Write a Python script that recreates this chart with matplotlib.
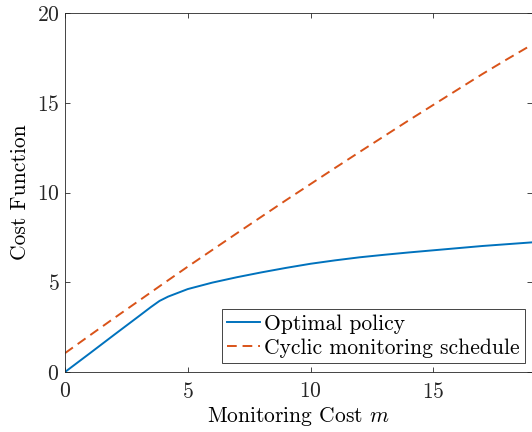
import numpy as np
import matplotlib
matplotlib.use("Agg")
import matplotlib.pyplot as plt

# monitoring cost m
m_opt = [0, 1, 2, 3, 3.5, 3.85, 4.2, 5, 6, 7, 8, 9, 10, 11, 12, 13, 14, 15, 16, 17, 18, 19]
cost_opt = [0, 1.03, 2.07, 3.1, 3.62, 3.96, 4.2, 4.62, 4.98, 5.28, 5.55, 5.8, 6.03, 6.22,
            6.39, 6.53, 6.66, 6.78, 6.9, 7.02, 7.12, 7.22]

m_cyc = [0, 1, 2, 3, 4, 5, 6, 7, 8, 9, 10, 11, 12, 13, 14, 15, 16, 17, 18, 19]
cost_cyc = [1.05, 2.03, 3.0, 3.96, 4.92, 5.87, 6.8, 7.73, 8.65, 9.57, 10.47, 11.37,
            12.26, 13.14, 14.02, 14.88, 15.74, 16.6, 17.42, 18.22]

plt.rcParams['font.family'] = 'serif'
plt.rcParams['font.serif'] = ['cmr10']
plt.rcParams['mathtext.fontset'] = 'cm'
plt.rcParams['axes.formatter.use_mathtext'] = True
fs = 15.5

fig = plt.figure(figsize=(5.32, 4.32), dpi=100)
ax = fig.add_axes([65 / 532, 60 / 432, 466.5 / 532, 359 / 432])

ax.plot(m_opt, cost_opt, color='#0072BD', lw=1.4, label='Optimal policy')
ax.plot(m_cyc, cost_cyc, color='#D95319', lw=1.4, ls=(0, (5, 3)),
        label='Cyclic monitoring schedule')

ax.set_xlim(0, 19)
ax.set_ylim(0, 20)
ax.set_xticks([0, 5, 10, 15])
ax.set_yticks([0, 5, 10, 15, 20])
ax.tick_params(direction='in', length=3.5, width=0.6, colors='#262626',
               top=True, right=True, labelsize=fs)
ax.tick_params(axis='x', pad=7)
ax.tick_params(axis='y', pad=4)
for s in ax.spines.values():
    s.set_color('#262626')
    s.set_linewidth(0.6)

ax.set_xlabel('Monitoring Cost $m$', fontsize=fs, labelpad=2)
ax.set_ylabel('Cost Function', fontsize=fs, labelpad=5)

leg = ax.legend(loc='lower right', bbox_to_anchor=(0.986, 0.025), fontsize=fs,
                frameon=True, fancybox=False, framealpha=1, edgecolor='#262626',
                handlelength=1.5, handletextpad=0.2, borderpad=0.25,
                labelspacing=0.2, borderaxespad=0)
leg.get_frame().set_linewidth(0.6)

fig.savefig('out.png', dpi=100)
